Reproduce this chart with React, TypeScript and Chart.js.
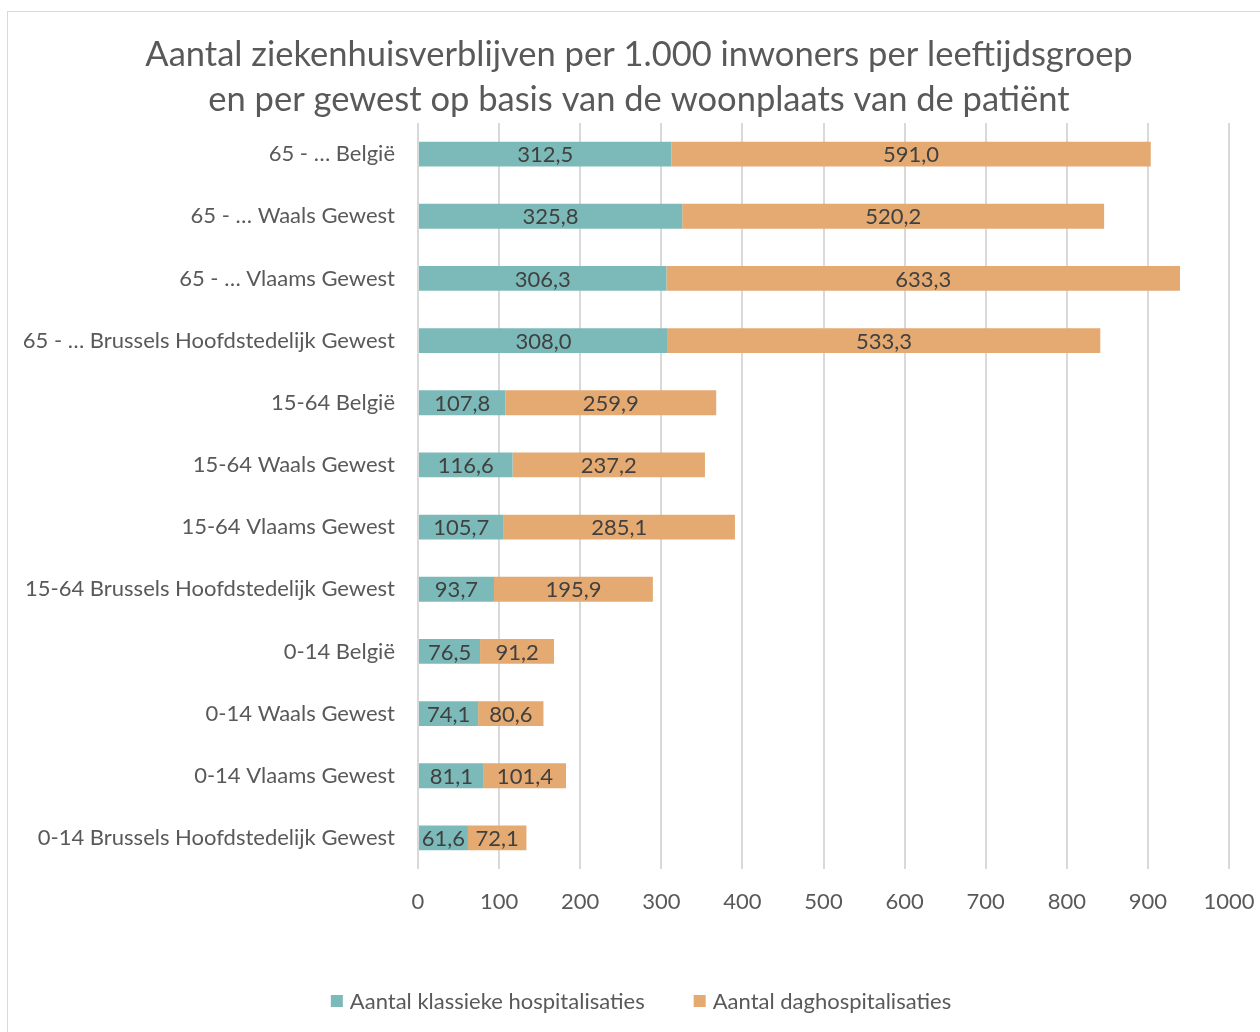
import React, { useEffect, useRef } from "react";
import { Chart, registerables } from "chart.js";

Chart.register(...registerables);

const categories = [
  "65 - … België",
  "65 - … Waals Gewest",
  "65 - … Vlaams Gewest",
  "65 - … Brussels Hoofdstedelijk Gewest",
  "15-64 België",
  "15-64 Waals Gewest",
  "15-64 Vlaams Gewest",
  "15-64 Brussels Hoofdstedelijk Gewest",
  "0-14 België",
  "0-14 Waals Gewest",
  "0-14 Vlaams Gewest",
  "0-14 Brussels Hoofdstedelijk Gewest",
];
const klassiek = [312.5, 325.8, 306.3, 308.0, 107.8, 116.6, 105.7, 93.7, 76.5, 74.1, 81.1, 61.6];
const dag = [591.0, 520.2, 633.3, 533.3, 259.9, 237.2, 285.1, 195.9, 91.2, 80.6, 101.4, 72.1];
const seriesNames = ["Aantal klassieke hospitalisaties", "Aantal daghospitalisaties"];
const titleLines = [
  "Aantal ziekenhuisverblijven per 1.000 inwoners per leeftijdsgroep",
  "en per gewest op basis van de woonplaats van de patiënt",
];

const FONT = "Lato, 'Open Sans', sans-serif";
const TEAL = "#7CBAB9";
const ORANGE = "#E4AA72";
const TEXT = "#595959";

const fmt = (v: number) => v.toFixed(1).replace(".", ",");

const framePlugin = {
  id: "frame",
  beforeDraw(chart: any) {
    const ctx = chart.ctx;
    ctx.save();
    ctx.fillStyle = "#ffffff";
    ctx.fillRect(0, 0, chart.width, chart.height);
    ctx.strokeStyle = "#d9d9d9";
    ctx.lineWidth = 1;
    ctx.strokeRect(7.5, 11.5, 1400, 1200);
    ctx.restore();
  },
};

const titlePlugin = {
  id: "customTitle",
  afterDraw(chart: any) {
    const ctx = chart.ctx;
    ctx.save();
    ctx.font = `34.5px ${FONT}`;
    ctx.fillStyle = TEXT;
    ctx.textAlign = "center";
    ctx.textBaseline = "middle";
    titleLines.forEach((line, i) => {
      ctx.fillText(line, 639, 55 + i * 45);
    });
    ctx.restore();
  },
};

const labelPlugin = {
  id: "segLabels",
  afterDatasetsDraw(chart: any) {
    const ctx = chart.ctx;
    ctx.save();
    ctx.font = `22px ${FONT}`;
    ctx.fillStyle = "#404040";
    ctx.textAlign = "center";
    ctx.textBaseline = "middle";
    chart.data.datasets.forEach((ds: any, di: number) => {
      const meta = chart.getDatasetMeta(di);
      meta.data.forEach((el: any, i: number) => {
        const cx = (el.x + el.base) / 2;
        ctx.fillText(fmt(ds.data[i]), cx, el.y + 1);
      });
    });
    ctx.restore();
  },
};

const legendPlugin = {
  id: "customLegend",
  afterDraw(chart: any) {
    const ctx = chart.ctx;
    ctx.save();
    ctx.font = `22px ${FONT}`;
    ctx.textBaseline = "middle";
    ctx.textAlign = "left";
    const box = 12;
    const gapBoxText = 7;
    const gapItems = 49;
    const colors = [TEAL, ORANGE];
    const widths = seriesNames.map((n) => box + gapBoxText + ctx.measureText(n).width);
    const total = widths[0] + widths[1] + gapItems;
    let x = 641 - total / 2;
    const y = 1001;
    seriesNames.forEach((n, i) => {
      ctx.fillStyle = colors[i];
      ctx.fillRect(x, y - box / 2, box, box);
      ctx.fillStyle = TEXT;
      ctx.fillText(n, x + box + gapBoxText, y + 1);
      x += widths[i] + gapItems;
    });
    ctx.restore();
  },
};

export default function App() {
  const ref = useRef<HTMLCanvasElement | null>(null);
  useEffect(() => {
    document.body.style.margin = "0";
    if (!ref.current) return;
    const chart = new Chart(ref.current, {
      type: "bar",
      data: {
        labels: categories,
        datasets: [
          { label: seriesNames[0], data: klassiek, backgroundColor: TEAL, barPercentage: 0.4, categoryPercentage: 1 },
          { label: seriesNames[1], data: dag, backgroundColor: ORANGE, barPercentage: 0.4, categoryPercentage: 1 },
        ],
      },
      options: {
        indexAxis: "y",
        responsive: false,
        animation: false,
        layout: { padding: { left: 10, right: 31, top: 123, bottom: 0 } },
        plugins: {
          legend: { display: false },
          tooltip: { enabled: false },
          title: { display: false },
        },
        scales: {
          x: {
            stacked: true,
            min: 0,
            max: 1000,
            ticks: {
              stepSize: 100,
              color: TEXT,
              font: { family: FONT, size: 22 },
              padding: 20,
              callback: (v: any) => String(v),
            },
            grid: { color: "#d9d9d9", lineWidth: 2, drawTicks: false },
            border: { display: false },
            afterFit(scale: any) {
              scale.height = 163;
              scale.paddingRight = 0;
              scale.paddingLeft = 0;
            },
          },
          y: {
            stacked: true,
            ticks: { color: TEXT, font: { family: FONT, size: 22 }, padding: 23 },
            grid: { display: false, drawTicks: false },
            border: { display: false },
            afterFit(scale: any) {
              scale.width = 408;
              scale.paddingTop = 0;
              scale.paddingBottom = 0;
            },
          },
        },
      },
      plugins: [framePlugin, titlePlugin, labelPlugin, legendPlugin],
    });
    return () => chart.destroy();
  }, []);
  return <canvas ref={ref} width={1260} height={1032} style={{ display: "block" }} />;
}
